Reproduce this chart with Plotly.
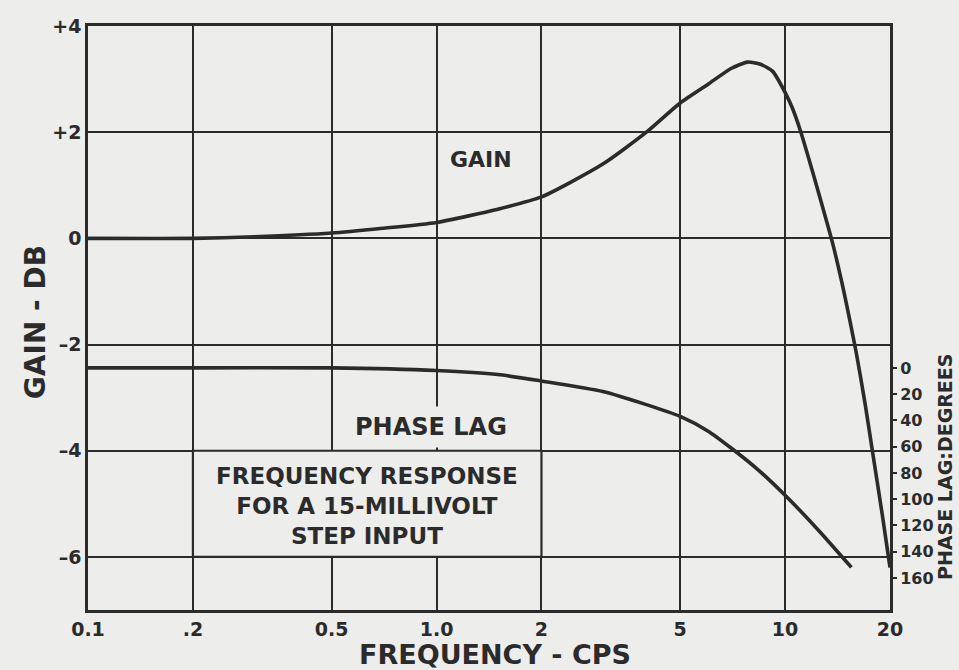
import math
import plotly.graph_objects as go

# Gain response (dB) against frequency (cps)
freq_gain = [0.1, 0.2, 0.3, 0.5, 0.7, 1.0, 1.5, 2.0, 3.0, 4.0, 5.0, 6.0, 7.0,
             7.8, 8.5, 9.2, 10.0, 10.5, 11.1, 12.0, 12.8, 13.7, 14.8, 16.0, 17.0,
             17.8, 19.0, 20.0]
gain_db = [0.0, 0.0, 0.03, 0.1, 0.19, 0.3, 0.55, 0.78, 1.4, 2.0, 2.55, 2.9, 3.2,
           3.32, 3.28, 3.15, 2.75, 2.45, 2.0, 1.25, 0.6, -0.1, -1.05, -2.15, -3.15,
           -4.0, -5.2, -6.2]

# Phase lag (degrees) against frequency (cps)
freq_phase = [0.1, 0.2, 0.5, 1.0, 1.5, 2.0, 3.0, 4.0, 5.0, 6.0, 7.0, 8.4, 10.0, 12.5, 15.5]
phase_deg = [0, 0, 0, 2, 5, 10, 18, 28, 37, 48, 61, 78, 97, 124, 152]

# Axis ticks
freq_ticks = [0.1, 0.2, 0.5, 1.0, 2, 5, 10, 20]
freq_labels = ["0.1", ".2", "0.5", "1.0", "2", "5", "10", "20"]
gain_ticks = [4, 2, 0, -2, -4, -6]
gain_labels = ["+4", "+2", "0", "–2", "–4", "–6"]
phase_ticks = [0, 20, 40, 60, 80, 100, 120, 140, 160]

BG = "#ededeb"
INK = "#2b2b2b"
FONT = "DejaVu Sans"

# Gain scale limits and the matching phase scale (phase axis hangs on the gain axis)
gain_min, gain_max = -7, 4
deg_per_db = 40.45
phase_zero_at_gain = -2.44
phase_top = -(gain_max - phase_zero_at_gain) * deg_per_db
phase_bottom = (phase_zero_at_gain - gain_min) * deg_per_db

fig = go.Figure()
fig.add_trace(go.Scatter(
    x=freq_gain, y=gain_db, mode="lines", yaxis="y",
    line=dict(color=INK, width=3.6, shape="spline", smoothing=0.6),
    hoverinfo="skip", showlegend=False))
fig.add_trace(go.Scatter(
    x=freq_phase, y=phase_deg, mode="lines", yaxis="y2",
    line=dict(color=INK, width=3.6, shape="spline", smoothing=0.6),
    hoverinfo="skip", showlegend=False))

lg = math.log10

# Caption box sits on the grid cell block 0.2–2 cps, -6 to -4 dB
fig.add_shape(type="rect", xref="x", yref="y",
              x0=0.2, x1=2.0, y0=-6, y1=-4,
              fillcolor=BG, line=dict(color=INK, width=2.2), layer="above")

def label(text, f, g, size, **kw):
    fig.add_annotation(x=lg(f), y=g, xref="x", yref="y", text=text, showarrow=False,
                       xanchor="center", yanchor="middle",
                       font=dict(family=FONT, size=size, color=INK, weight="bold"), **kw)

label("GAIN", 1.34, 1.48, 22)
label("PHASE LAG", 0.964, -3.55, 24, bgcolor=BG, borderpad=6)
label("FREQUENCY RESPONSE<br>FOR A 15-MILLIVOLT<br>STEP INPUT", 0.632, -5.04, 23)

def side_text(text, x, y, size, angle=0):
    fig.add_annotation(text=text, xref="paper", yref="paper", x=x, y=y,
                       xanchor="center", yanchor="middle", textangle=angle,
                       showarrow=False,
                       font=dict(family=FONT, size=size, color=INK, weight="bold"))

side_text("GAIN - DB", -0.066, 0.493, 28, -90)
side_text("FREQUENCY - CPS", 0.5075, -0.077, 27)
side_text("PHASE LAG:DEGREES", 1.0686, 0.245, 19, -90)

fig.update_layout(
    width=959, height=670,
    margin=dict(l=88, r=69, t=26, b=60),
    paper_bgcolor=BG, plot_bgcolor=BG,
    font=dict(family=FONT, color=INK),
    xaxis=dict(type="log", range=[lg(0.1), lg(20)],
               tickvals=freq_ticks, ticktext=freq_labels,
               tickfont=dict(size=19, weight="bold"),
               showgrid=True, gridcolor=INK, gridwidth=2,
               showline=True, mirror=True, linecolor=INK, linewidth=2.6,
               ticks="", zeroline=False, fixedrange=True),
    yaxis=dict(range=[gain_min, gain_max],
               tickvals=gain_ticks, ticktext=gain_labels,
               tickfont=dict(size=19, weight="bold"),
               showgrid=True, gridcolor=INK, gridwidth=2,
               showline=True, mirror=True, linecolor=INK, linewidth=2.6,
               ticks="", zeroline=False, fixedrange=True),
    yaxis2=dict(overlaying="y", side="right",
                range=[phase_bottom, phase_top],
                tickvals=phase_ticks, ticktext=[str(v) for v in phase_ticks],
                tickfont=dict(size=16, weight="bold"),
                ticks="outside", ticklen=6, tickwidth=2, tickcolor=INK,
                showgrid=False, zeroline=False, showline=False, fixedrange=True),
)

fig.write_html("out.html")
